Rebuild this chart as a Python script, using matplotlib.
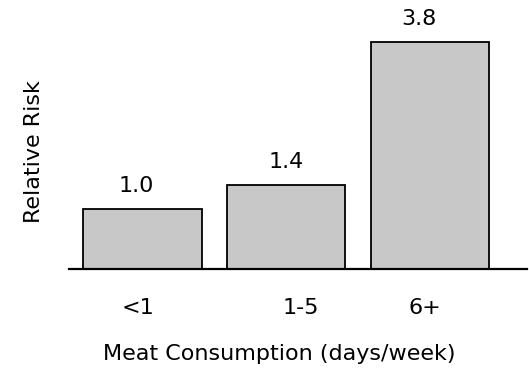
import matplotlib
matplotlib.use("Agg")
import matplotlib.pyplot as plt
import matplotlib.transforms as mtransforms

categories = ["<1", "1-5", "6+"]
relative_risk = [1.0, 1.4, 3.8]
value_labels = ["1.0", "1.4", "3.8"]

# small horizontal nudges (points) seen on the reference labels
label_nudge = [-2.9, 10.3, -4.0]
value_nudge = [-4.5, 0.0, -8.0]

plt.rcParams["font.family"] = ["DejaVu Sans"]
FS = 16

fig = plt.figure(figsize=(5.29, 3.72), dpi=100)
ax = fig.add_axes([0.131, 0.2769, 0.8646, 0.7231])

x = list(range(len(categories)))
bars = ax.bar(x, relative_risk, width=0.826, color="#c8c8c8",
              edgecolor="black", linewidth=1.3, zorder=2)

for rect, txt, dx in zip(bars, value_labels, value_nudge):
    ax.annotate(txt, (rect.get_x() + rect.get_width() / 2, rect.get_height()),
                xytext=(dx, 9.5), textcoords="offset points",
                ha="center", va="bottom", fontsize=FS, clip_on=False)

ax.set_xlim(-0.506, 2.672)
ax.set_ylim(0, 4.5)

for s in ("top", "right", "left"):
    ax.spines[s].set_visible(False)
ax.spines["bottom"].set_linewidth(1.6)
ax.spines["bottom"].set_zorder(3)

ax.set_yticks([])
ax.set_xticks(x)
ax.set_xticklabels(categories, fontsize=FS)
ax.tick_params(axis="x", length=0, pad=21)
for lbl, dx in zip(ax.get_xticklabels(), label_nudge):
    lbl.set_transform(lbl.get_transform() +
                      mtransforms.ScaledTranslation(dx / 72, 0, fig.dpi_scale_trans))

ax.set_ylabel("Relative Risk", fontsize=FS)
ax.yaxis.set_label_coords(-0.0554, 0.435)
ax.set_xlabel("Meat Consumption (days/week)", fontsize=FS)
ax.xaxis.set_label_coords(0.4596, -0.278)
ax.xaxis.label.set_va("top")

fig.savefig("out.png", dpi=100)
